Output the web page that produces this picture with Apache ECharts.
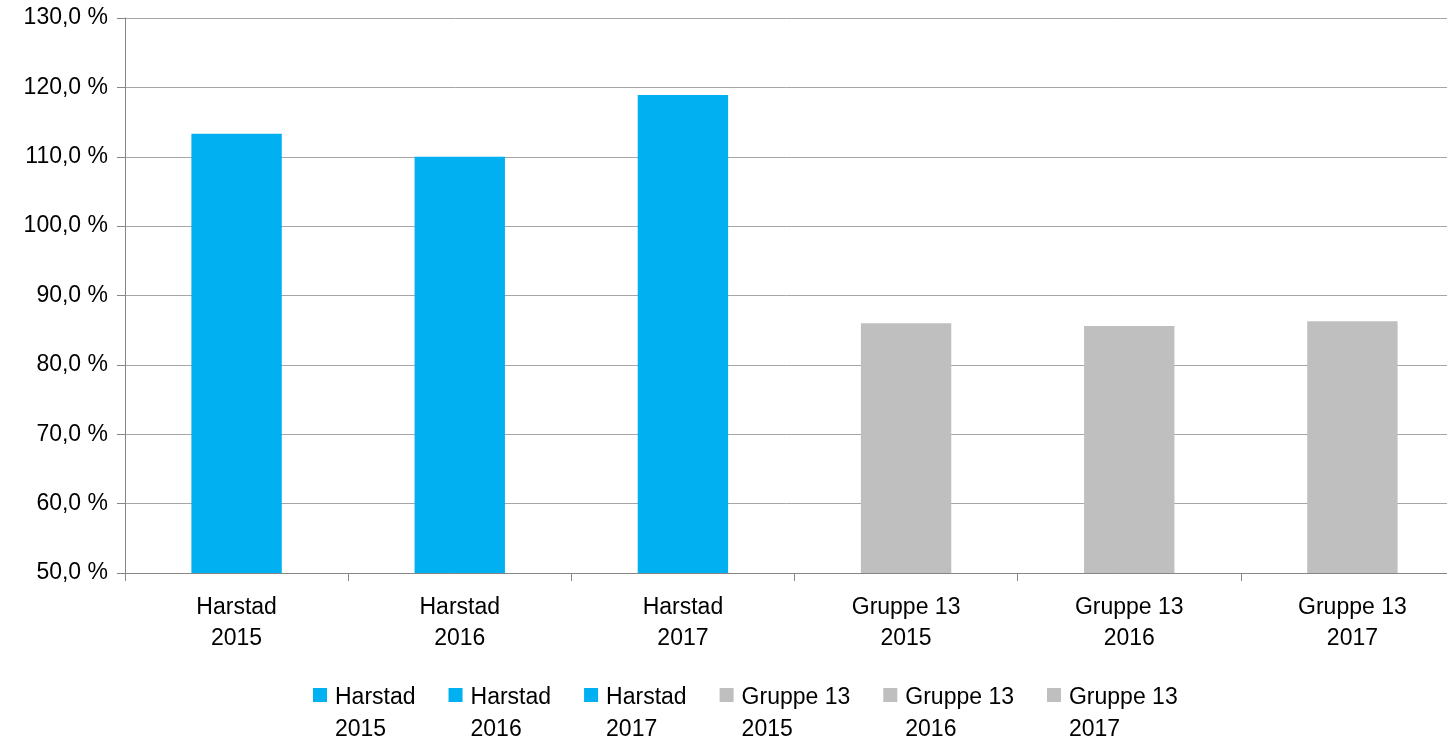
<!DOCTYPE html>
<html>
<head>
<meta charset="utf-8">
<script src="https://cdn.jsdelivr.net/npm/echarts@6/dist/echarts.min.js"></script>
<style>html,body{margin:0;padding:0;background:#fff;}#c{width:1447px;height:741px;}</style>
</head>
<body>
<div id="c"></div>
<script>
var categories = ['Harstad\n2015', 'Harstad\n2016', 'Harstad\n2017', 'Gruppe 13\n2015', 'Gruppe 13\n2016', 'Gruppe 13\n2017'];
var values = [113.3, 110.0, 118.9, 86.0, 85.6, 86.3];
var colors = ['#00B0F0', '#00B0F0', '#00B0F0', '#BFBFBF', '#BFBFBF', '#BFBFBF'];
var yTicks = { min: 50, max: 130, interval: 10 };

var FONT = 'Liberation Sans';
var series = categories.map(function (name, i) {
  return {
    name: name,
    type: 'bar',
    barWidth: '40.5%',
    barGap: '-100%',
    itemStyle: { color: colors[i] },
    data: categories.map(function (c, j) { return j === i ? values[i] : '-'; })
  };
});

var chart = echarts.init(document.getElementById('c'));
chart.setOption({
  animation: false,
  textStyle: { fontFamily: FONT },
  grid: { left: 125, width: 1339, top: 18, bottom: 168, containLabel: false, outerBoundsMode: 'none' },
  legend: {
    left: 308,
    top: 677,
    itemWidth: 14,
    itemHeight: 52,
    itemGap: 33,
    icon: 'path://M0,0L14,0L14,14L0,14Z M0,52L0.01,52',
    textStyle: { fontFamily: FONT, fontSize: 23, color: '#000', lineHeight: 32, padding: [0, 0, 0, 3] },
    data: categories
  },
  xAxis: {
    type: 'category',
    data: categories,
    axisLine: { lineStyle: { color: '#868686', width: 1 } },
    axisTick: { show: true, length: 8, lineStyle: { color: '#868686' } },
    axisLabel: { fontFamily: FONT, fontSize: 23, color: '#000', lineHeight: 31, margin: 19, interval: 0 }
  },
  yAxis: {
    type: 'value',
    min: yTicks.min,
    max: yTicks.max,
    interval: yTicks.interval,
    axisLine: { show: true, lineStyle: { color: '#868686', width: 1 } },
    axisTick: { show: true, length: 8, lineStyle: { color: '#868686' } },
    splitLine: { show: true, lineStyle: { color: '#A6A6A6', width: 1 } },
    axisLabel: {
      fontFamily: FONT, fontSize: 23, color: '#000', margin: 17,
      formatter: function (v) { return v.toFixed(1).replace('.', ',') + ' %'; }
    }
  },
  series: series
});
</script>
</body>
</html>
